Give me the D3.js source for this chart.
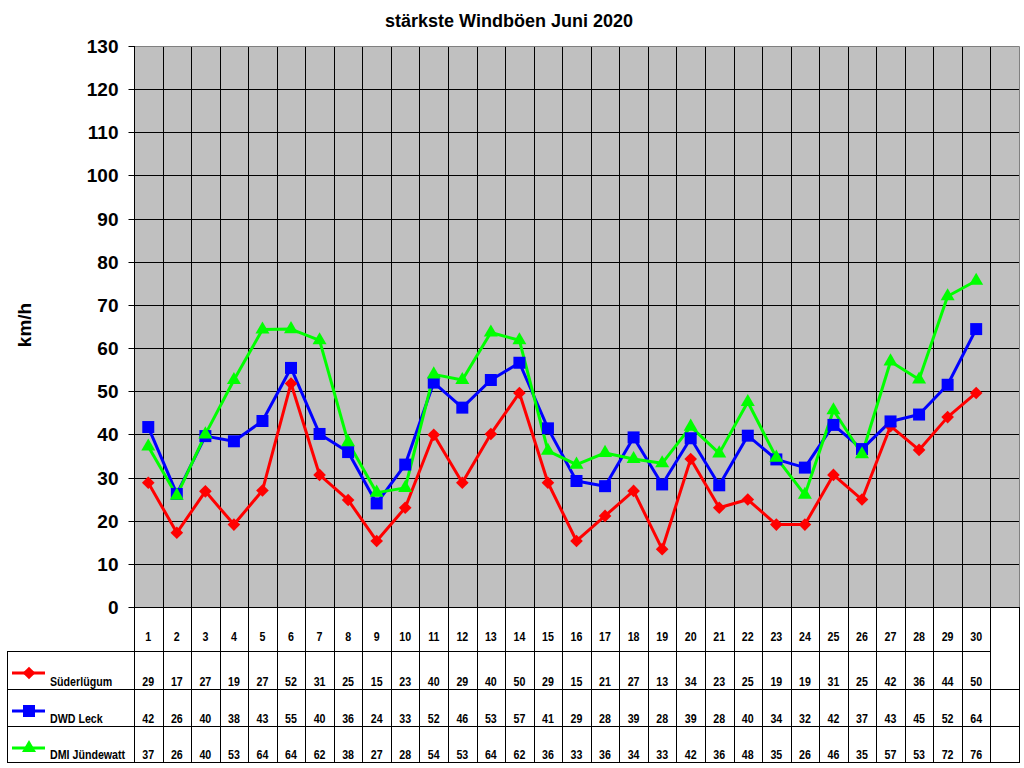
<!DOCTYPE html>
<html>
<head>
<meta charset="utf-8">
<script src="https://cdn.jsdelivr.net/npm/d3@7"></script>
<style>
  body { margin: 0; background: #fff; }
  svg text { font-family: "Liberation Sans", Arial, sans-serif; font-weight: bold; fill: #000; }
  .tbl text { font-size: 13px; }
</style>
</head>
<body>
<div id="chart"></div>
<script>
// categories (last one is the empty column at the right)
var days = ['1','2','3','4','5','6','7','8','9','10','11','12','13','14','15',
            '16','17','18','19','20','21','22','23','24','25','26','27','28','29','30',''];

var suederluegum = [28.8, 17.2, 26.8, 19.1, 27.0, 51.8, 30.6, 24.8, 15.3, 23.0, 39.9, 28.8, 40.1, 49.6, 28.8,
                    15.3, 21.1, 26.9, 13.4, 34.3, 23.0, 24.9, 19.1, 19.1, 30.6, 24.9, 41.9, 36.4, 44.0, 49.6];
var dwdLeck = [41.7, 26.2, 39.6, 38.4, 43.1, 55.4, 40.1, 35.9, 24.0, 33.0, 52.0, 46.2, 52.6, 56.6, 41.4,
               29.2, 28.0, 39.3, 28.4, 39.1, 28.2, 39.7, 34.2, 32.3, 42.2, 36.6, 43.0, 44.6, 51.5, 64.4];
var dmiJuendewatt = [37.2, 25.8, 40.0, 52.6, 64.3, 64.4, 61.8, 38.2, 26.5, 27.6, 53.9, 52.6, 63.6, 61.8, 36.2,
                     33.0, 35.7, 34.3, 33.3, 41.8, 35.6, 47.5, 34.6, 26.0, 45.6, 35.4, 56.9, 52.7, 72.0, 75.6];

var yTicks = [0, 10, 20, 30, 40, 50, 60, 70, 80, 90, 100, 110, 120, 130];

var series = [
  { name: 'Süderlügum', values: suederluegum, color: '#ff0000', symbol: 'diamond' },
  { name: 'DWD Leck', values: dwdLeck, color: '#0000ff', symbol: 'square' },
  { name: 'DMI Jündewatt', values: dmiJuendewatt, color: '#00ff00', symbol: 'triangle' }
];

var W = 1024, H = 768;
var plotL = 134, plotR = 1019, plotT = 46, plotB = 607;
var rowEdges = [651, 689, 726, 762];

var svg = d3.select('#chart').append('svg').attr('width', W).attr('height', H);

var x = d3.scaleBand().domain(days).range([plotL, plotR]);
var y = d3.scaleLinear().domain([0, 130]).range([plotB, plotT]);

function cx(i) { return x(days[i]) + x.bandwidth() / 2; }
// narrow text helper (the table font is condensed)
function squeeze(px, py) { return 'translate(' + px + ',' + py + ') scale(0.82,1)'; }

// plot background
svg.append('rect')
  .attr('x', plotL).attr('y', plotT)
  .attr('width', plotR - plotL).attr('height', plotB - plotT)
  .attr('fill', '#c0c0c0');

// horizontal grid
svg.append('g').selectAll('line')
  .data(yTicks.slice(0, -1))
  .enter().append('line')
  .attr('x1', plotL).attr('x2', plotR)
  .attr('y1', function(d) { return Math.round(y(d)) + 0.5; })
  .attr('y2', function(d) { return Math.round(y(d)) + 0.5; })
  .attr('stroke', '#000');

// vertical grid lines through plot and table
svg.append('g').selectAll('line')
  .data(days.slice(1))
  .enter().append('line')
  .attr('x1', function(d) { return Math.round(x(d)) + 0.5; })
  .attr('x2', function(d) { return Math.round(x(d)) + 0.5; })
  .attr('y1', plotT).attr('y2', rowEdges[3])
  .attr('stroke', '#000');

// plot border top/right (gray)
svg.append('path')
  .attr('d', 'M' + plotL + ',' + (plotT + 0.5) + 'H' + (plotR + 0.5) + 'V' + plotB)
  .attr('fill', 'none').attr('stroke', '#808080');
svg.append('line')
  .attr('x1', plotR + 0.5).attr('x2', plotR + 0.5)
  .attr('y1', plotB).attr('y2', rowEdges[3] + 1)
  .attr('stroke', '#000');

// y axis
var yAxis = d3.axisLeft(y).tickValues(yTicks).tickSize(6).tickPadding(10);
var ga = svg.append('g').attr('transform', 'translate(' + (plotL + 0.5) + ',0)').call(yAxis);
ga.select('.domain').remove();
ga.selectAll('.tick line').attr('stroke', '#000');
ga.selectAll('.tick text').attr('font-size', 19).attr('font-weight', 'bold')
  .attr('font-family', '"Liberation Sans", Arial, sans-serif').attr('fill', '#000');
ga.selectAll('.tick').attr('transform', function(d) { return 'translate(0,' + (Math.round(y(d)) + 0.5) + ')'; });

// left axis line down through table
svg.append('line')
  .attr('x1', plotL + 0.5).attr('x2', plotL + 0.5)
  .attr('y1', plotT).attr('y2', rowEdges[3])
  .attr('stroke', '#000');

// table
var tbl = svg.append('g').attr('class', 'tbl');

tbl.selectAll('line.row')
  .data(rowEdges)
  .enter().append('line')
  .attr('class', 'row')
  .attr('x1', 7)
  .attr('x2', function(d, i) { return i === 0 ? Math.round(x('')) + 1 : plotR + 1; })
  .attr('y1', function(d) { return d + 0.5; })
  .attr('y2', function(d) { return d + 0.5; })
  .attr('stroke', '#000');
tbl.append('line')
  .attr('x1', 7.5).attr('x2', 7.5)
  .attr('y1', rowEdges[0]).attr('y2', rowEdges[3] + 1)
  .attr('stroke', '#000');

// category labels
tbl.selectAll('text.cat')
  .data(days)
  .enter().append('text')
  .attr('class', 'cat')
  .attr('transform', function(d, i) { return squeeze(cx(i), 641); })
  .attr('text-anchor', 'middle')
  .text(function(d) { return d; });

var symFor = {
  diamond: d3.symbol().type(d3.symbolSquare).size(80),
  square: d3.symbol().type(d3.symbolSquare).size(144),
  triangle: d3.symbol().type(d3.symbolTriangle).size(85)
};
function markerTransform(s, px, py) {
  return 'translate(' + px + ',' + py + ')' + (s.symbol === 'diamond' ? ' rotate(45)' : '');
}

series.forEach(function(s, si) {
  var rowTop = rowEdges[si], rowBot = rowEdges[si + 1];
  var base = rowBot - 3;
  var row = tbl.append('g');
  row.selectAll('text')
    .data(s.values)
    .enter().append('text')
    .attr('transform', function(d, i) { return squeeze(cx(i), base); })
    .attr('text-anchor', 'middle')
    .text(function(d) { return Math.round(d); });
  // legend
  var ly = rowTop + 22;
  row.append('line')
    .attr('x1', 12).attr('x2', 45).attr('y1', ly).attr('y2', ly)
    .attr('stroke', s.color).attr('stroke-width', 3);
  row.append('path')
    .attr('d', symFor[s.symbol]())
    .attr('transform', markerTransform(s, 29, ly))
    .attr('fill', s.color);
  row.append('text')
    .attr('transform', squeeze(50, base))
    .text(s.name);
});

// lines
var line = d3.line()
  .x(function(d, i) { return cx(i); })
  .y(function(d) { return y(d); });

series.forEach(function(s) {
  svg.append('path')
    .datum(s.values)
    .attr('d', line)
    .attr('fill', 'none')
    .attr('stroke', s.color)
    .attr('stroke-width', 3)
    .attr('stroke-linejoin', 'round');
});
series.forEach(function(s) {
  svg.append('g').selectAll('path')
    .data(s.values)
    .enter().append('path')
    .attr('d', symFor[s.symbol]())
    .attr('transform', function(d, i) { return markerTransform(s, cx(i), y(d)); })
    .attr('fill', s.color);
});

// title
svg.append('text')
  .attr('x', 509).attr('y', 27)
  .attr('text-anchor', 'middle')
  .attr('font-size', 18)
  .text('stärkste Windböen Juni 2020');

// y label
svg.append('text')
  .attr('transform', 'translate(31,325) rotate(-90)')
  .attr('text-anchor', 'middle')
  .attr('font-size', 19)
  .text('km/h');
</script>
</body>
</html>
